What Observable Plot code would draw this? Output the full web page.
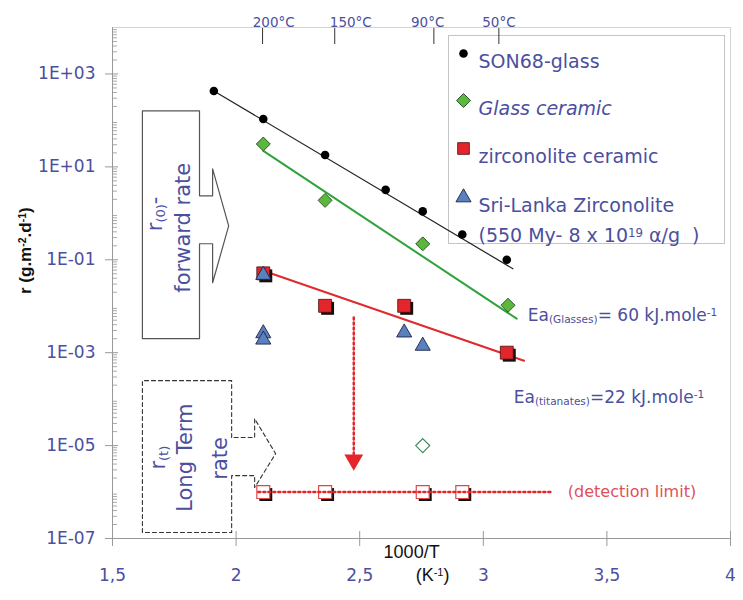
<!DOCTYPE html>
<html>
<head>
<meta charset="utf-8">
<script src="https://cdn.jsdelivr.net/npm/d3@7"></script>
<script src="https://cdn.jsdelivr.net/npm/@observablehq/plot@0.6"></script>
<style>
  body { margin: 0; background: #fff; }
</style>
</head>
<body>
<div id="chart"></div>
<script>
// ---------- axes / tick labels ----------
const xTicks = [1.5, 2, 2.5, 3, 3.5, 4];
const xTickLabels = ["1,5", "2", "2,5", "3", "3,5", "4"];
const yTicks = [1e-7, 1e-5, 1e-3, 1e-1, 1e1, 1e3];
const yTickLabels = ["1E-07", "1E-05", "1E-03", "1E-01", "1E+01", "1E+03"];
const yMinorTicks = d3.range(-7, 4).flatMap(k => [2, 3, 4, 5, 6, 7, 8, 9].map(m => m * Math.pow(10, k)));
const tempTickX = [2.107, 2.399, 2.800, 3.063];
const tempLabelX = [2.152, 2.464, 2.775, 3.063];
const tempLabels = ["200°C", "150°C", "90°C", "50°C"];

// ---------- series (x = 1000/T, y = r) ----------
const son68X = [1.91, 2.11, 2.36, 2.605, 2.755, 2.915, 3.095];
const son68Y = [430, 107, 18, 3.2, 1.1, 0.35, 0.1];
const glassCerX = [2.11, 2.36, 2.755, 3.10];
const glassCerY = [31, 1.9, 0.22, 0.0105];
const zircX = [2.11, 2.36, 2.68, 3.095];
const zircY = [0.051, 0.0102, 0.0102, 0.001];
const sriX = [2.11, 2.11, 2.11, 2.68, 2.755];
const sriY = [0.047, 0.0026, 0.0019, 0.0027, 0.0014];
const detLimitX = [2.11, 2.36, 2.755, 2.915];
const detLimitY = [1e-6, 1e-6, 1e-6, 1e-6];
const openDiamondX = [2.755];
const openDiamondY = [1e-5];

// fitted Arrhenius lines
const son68FitX = [1.91, 3.12];
const son68FitY = [430, 0.064];
const glassFitX = [2.11, 3.135];
const glassFitY = [22, 0.0054];
const titanateFitX = [2.11, 3.165];
const titanateFitY = [0.058, 0.00067];

// detection limit line and drop arrow
const detLineX = [2.09, 3.28];
const detLineY = [1e-6, 1e-6];
const dropArrowX = [2.476, 2.476];
const dropArrowY = [5.7e-3, 6.5e-6];
const dropHeadX = [2.476];
const dropHeadY = [4.9e-6];

// annotation shapes (data units)
const fwdBoxX = [1.852, 1.852, 1.621, 1.621, 1.852, 1.852, 1.905, 1.905, 1.970, 1.905, 1.905, 1.852];
const fwdBoxY = [2.38, 160, 160, 0.002, 0.002, 0.221, 0.221, 0.032, 0.538, 9.06, 2.38, 2.38];
const ltBoxX = [1.982, 1.982, 1.621, 1.621, 1.982, 1.982, 2.075, 2.075, 2.160, 2.075, 2.075, 1.982];
const ltBoxY = [1.49e-5, 2.5e-4, 2.5e-4, 1.35e-7, 1.35e-7, 2.26e-6, 2.26e-6, 1.25e-6, 6.7e-6, 3.8e-5, 1.49e-5, 1.49e-5];

// annotation texts
const boxTexts = ["r_{(0)}-", "forward rate", "r_{(t)}", "Long Term", "rate"];
const boxTextX = [1.674, 1.787, 1.686, 1.796, 1.937];
const boxTextY = [0.97, 0.49, 5.5e-6, 5.5e-6, 5.3e-6];
const eaTexts = ["Ea_{(Glasses)}= 60 kJ.mole^{-1}", "Ea_{(titanates)}=22 kJ.mole^{-1}"];
const eaTextX = [3.18, 3.123];
const eaTextY = [6.2e-3, 1.08e-4];
const detText = ["(detection limit)"];
const detTextX = [3.342];
const detTextY = [1e-6];

// legend
const legendLabels = ["SON68-glass", "Glass ceramic", "zirconolite ceramic", "Sri-Lanka Zirconolite", "(550 My- 8 x 10^{19} α/g  )"];

// ---------- styles ----------
const BLUE = "#4b4f9e";
const RED = "#e3262c";
const GREEN = "#5cb83c";
const TRI = "#5b80c0";
const pts = (X, Y) => X.map((x, i) => ({x, y: Y[i]}));

const sym = {
  dot: {symbol: "circle", r: 4.3, fill: "#000"},
  diamond: {symbol: "diamond2", r: 6.3, fill: GREEN, stroke: "#1e4a1e", strokeWidth: 0.9},
  square: {symbol: "square", r: 7.3, fill: RED, stroke: "#4a0d0d", strokeWidth: 0.8},
  tri: {symbol: "triangle", r: 5.6, fill: TRI, stroke: "#1a2244", strokeWidth: 0.9}
};
const legendSyms = [sym.dot, sym.diamond, {...sym.square, r: 6.6}, sym.tri, null];
const legendRowDy = [26, 73, 121, 170, 200];

const legendMarks = legendLabels.flatMap((lab, i) => {
  const ms = [];
  if (legendSyms[i]) ms.push(Plot.dot([0], {frameAnchor: "top-left", dx: 351, dy: legendRowDy[i], ...legendSyms[i]}));
  ms.push(Plot.text([lab], {frameAnchor: "top-left", dx: 366, dy: legendRowDy[i] + 1, textAnchor: "start",
    fill: BLUE, fontSize: 19, fontStyle: i === 1 ? "italic" : "normal"}));
  return ms;
});

const chart = Plot.plot({
  width: 743,
  height: 600,
  marginLeft: 112,
  marginRight: 13,
  marginTop: 27,
  marginBottom: 62,
  style: {fontFamily: "DejaVu Sans, sans-serif", fontSize: "17px", background: "#fff"},
  x: {domain: [1.5, 4]},
  y: {type: "log", domain: [1e-7, 1e4]},
  marks: [
    Plot.frame({stroke: "#d4d4d4"}),
    // legend box
    Plot.frame({insetLeft: 336, insetRight: 6, insetTop: 8, insetBottom: 295, stroke: "#c4c4c4", fill: "#fff"}),
    // axes
    Plot.axisY(yMinorTicks, {tickSize: -5, stroke: "#aaa", color: "none", label: null}),
    Plot.axisY(yTicks, {tickSize: -6, stroke: "#999", color: "none", label: null}),
    Plot.axisY(yTicks, {tickSize: 7, tickPadding: 10, stroke: "#999", color: BLUE, fontSize: 17,
      tickFormat: d => yTickLabels[yTicks.indexOf(d)], label: null}),
    Plot.axisX(xTicks, {tickSize: -7, stroke: "#999", color: "none", label: null}),
    Plot.axisX(xTicks, {tickSize: 8, tickPadding: 22, stroke: "#999", color: BLUE, fontSize: 17,
      tickFormat: d => xTickLabels[xTicks.indexOf(d)], label: null}),
    Plot.axisX(tempTickX, {anchor: "top", tickSize: -16, stroke: "#333", color: "none", label: null}),
    Plot.ruleX([1.5], {stroke: "#999"}),
    Plot.ruleY([1e-7], {stroke: "#999"}),
    Plot.text(tempLabels, {x: tempLabelX, text: d => d, frameAnchor: "top", dy: -10, fill: BLUE, fontSize: 13.5}),
    // annotation boxes
    Plot.line(pts(fwdBoxX, fwdBoxY), {x: "x", y: "y", stroke: "#555", strokeWidth: 1.2}),
    Plot.line(pts(ltBoxX, ltBoxY), {x: "x", y: "y", stroke: "#333", strokeWidth: 1.1, strokeDasharray: "4 3"}),
    Plot.text(boxTexts, {x: boxTextX, y: boxTextY, text: d => d, rotate: -90, fill: BLUE, fontSize: 21}),
    // fitted lines
    Plot.line(pts(son68FitX, son68FitY), {x: "x", y: "y", stroke: "#222", strokeWidth: 1.2}),
    Plot.line(pts(glassFitX, glassFitY), {x: "x", y: "y", stroke: "#2fa33a", strokeWidth: 2}),
    Plot.line(pts(titanateFitX, titanateFitY), {x: "x", y: "y", stroke: "#e02a2f", strokeWidth: 2}),
    // drop arrow
    Plot.line(pts(dropArrowX, dropArrowY), {x: "x", y: "y", stroke: RED, strokeWidth: 2.5, strokeDasharray: "2 3"}),
    Plot.dot(pts(dropHeadX, dropHeadY), {x: "x", y: "y", symbol: "triangle", rotate: 180, r: 7, fill: RED}),
    // detection-limit open squares
    Plot.dot(pts(detLimitX, detLimitY), {x: "x", y: "y", symbol: "square", r: 7.3, fill: "#111", dx: 2.5, dy: 2.5}),
    Plot.dot(pts(detLimitX, detLimitY), {x: "x", y: "y", symbol: "square", r: 7.3, fill: "#fff", stroke: "#e04848", strokeWidth: 1.2}),
    Plot.line(pts(detLineX, detLineY), {x: "x", y: "y", stroke: RED, strokeWidth: 2.5, strokeDasharray: "2 3"}),
    Plot.dot(pts(openDiamondX, openDiamondY), {x: "x", y: "y", symbol: "diamond2", r: 6.3, fill: "#fff", stroke: "#3f8a5f", strokeWidth: 1.2}),
    // series markers
    Plot.dot(pts(son68X, son68Y), {x: "x", y: "y", ...sym.dot}),
    Plot.dot(pts(glassCerX, glassCerY), {x: "x", y: "y", ...sym.diamond}),
    Plot.dot(pts(zircX, zircY), {x: "x", y: "y", symbol: "square", r: 7.3, fill: "#111", dx: 2.5, dy: 2.5}),
    Plot.dot(pts(zircX, zircY), {x: "x", y: "y", ...sym.square}),
    Plot.dot(pts(sriX, sriY), {x: "x", y: "y", ...sym.tri}),
    // legend
    ...legendMarks,
    // texts
    Plot.text(eaTexts, {x: eaTextX, y: eaTextY, text: d => d, textAnchor: "start", fill: BLUE, fontSize: 17}),
    Plot.text(detText, {x: detTextX, y: detTextY, text: d => d, textAnchor: "start", fill: "#e0505a", fontSize: 16}),
    Plot.text(["1000/T"], {x: [2.71], text: d => d, frameAnchor: "bottom", dy: 19, fill: "#111",
      fontFamily: "Liberation Sans Narrow, Liberation Sans, sans-serif", fontSize: 18}),
    Plot.text(["(K^{-1})"], {x: [2.795], text: d => d, frameAnchor: "bottom", dy: 42, fill: "#111",
      fontFamily: "Liberation Sans Narrow, Liberation Sans, sans-serif", fontSize: 18}),
    Plot.text(["r (g.m^{-2}.d^{-1})"], {text: d => d, frameAnchor: "left", dx: -87, dy: 11, rotate: -90, fill: "#111",
      fontWeight: "bold", fontFamily: "Liberation Sans Narrow, Liberation Sans, sans-serif", fontSize: 17})
  ]
});

// superscript / subscript markup -> tspans
function richText(svg) {
  svg.querySelectorAll("text").forEach(t => {
    const s = t.textContent;
    if (!/[_^]\{/.test(s)) return;
    while (t.firstChild) t.removeChild(t.firstChild);
    const re = /([_^])\{([^}]*)\}/g;
    let last = 0, m;
    const add = (str, kind) => {
      const ts = document.createElementNS("http://www.w3.org/2000/svg", "tspan");
      ts.textContent = str;
      if (kind) {
        ts.setAttribute("baseline-shift", kind === "^" ? "45%" : "-22%");
        ts.setAttribute("font-size", "62%");
      }
      t.appendChild(ts);
    };
    while ((m = re.exec(s))) {
      if (m.index > last) add(s.slice(last, m.index));
      add(m[2], m[1]);
      last = re.lastIndex;
    }
    if (last < s.length) add(s.slice(last));
  });
}
richText(chart);
document.getElementById("chart").appendChild(chart);
</script>
</body>
</html>
